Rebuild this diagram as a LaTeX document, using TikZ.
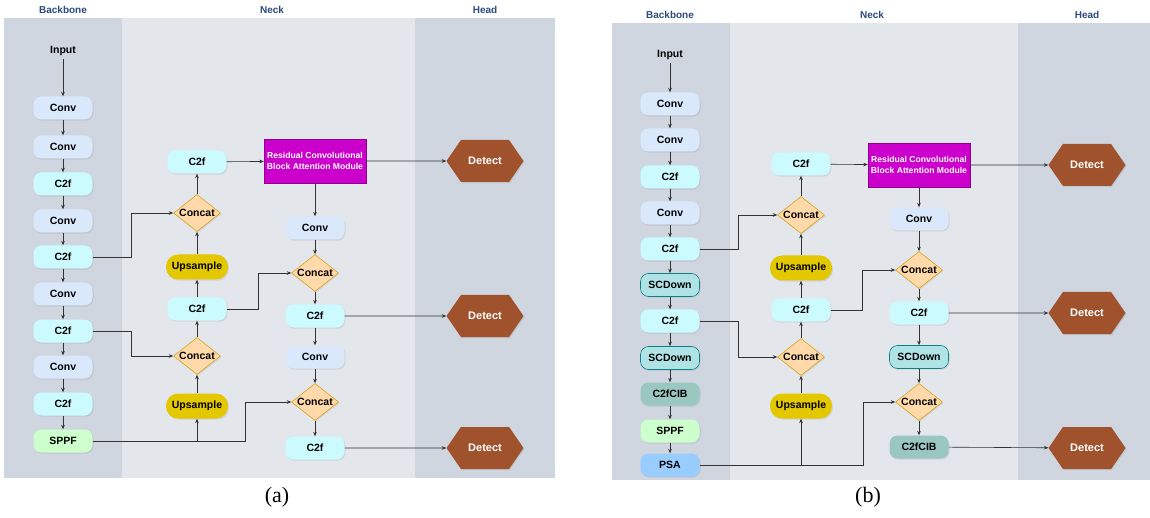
\documentclass[tikz,border=0pt]{standalone}
\usepackage{fontspec}
\setmainfont{Liberation Sans}
\newfontfamily\capfont{Liberation Serif}
\usetikzlibrary{shapes,shapes.symbols,arrows.meta,shadows}

\definecolor{lanedark}{HTML}{CFD6E0}
\definecolor{lanelight}{HTML}{E3E6EB}
\definecolor{titleblue}{HTML}{2E4A7D}
\definecolor{convfill}{HTML}{DAE8FC}
\definecolor{cffill}{HTML}{CCFBFF}
\definecolor{sppffill}{HTML}{CCFFCC}
\definecolor{upfill}{HTML}{E3C800}
\definecolor{catfill}{HTML}{FFD9AA}
\definecolor{catline}{HTML}{D79B00}
\definecolor{rcbfill}{HTML}{CC00CC}
\definecolor{detfill}{HTML}{A0522D}
\definecolor{scdfill}{HTML}{B0E3E6}
\definecolor{scdline}{HTML}{0E8088}
\definecolor{cibfill}{HTML}{9AC7BF}
\definecolor{psafill}{HTML}{99CCFF}
\definecolor{wire}{HTML}{333333}

\begin{document}
\begin{tikzpicture}[x=1pt,y=-1pt,>={Stealth[length=4.5pt,width=3.6pt]}]
  \tikzstyle{shade}=[drop shadow={opacity=0.18,shadow xshift=1pt,shadow yshift=-1.2pt}]
  \tikzstyle{blk}=[rounded corners=8pt,minimum width=59pt,minimum height=23pt,inner sep=0pt,
                   font=\bfseries\fontsize{10.5}{12}\selectfont,shade]
  \tikzstyle{conv}=[blk,fill=convfill]
  \tikzstyle{cf}=[blk,fill=cffill]
  \tikzstyle{sppf}=[blk,fill=sppffill]
  \tikzstyle{scd}=[blk,fill=scdfill,draw=scdline,line width=0.6pt]
  \tikzstyle{cib}=[blk,fill=cibfill]
  \tikzstyle{psa}=[blk,fill=psafill]
  \tikzstyle{upbox}=[blk,fill=upfill,rounded corners=12pt,minimum width=62pt,minimum height=25pt]
  \tikzstyle{catbox}=[diamond,aspect=1.3,inner sep=-3pt,minimum width=47pt,minimum height=37pt,
                      fill=catfill,draw=catline,line width=0.5pt,font=\bfseries\fontsize{10.5}{12}\selectfont,shade]
  \tikzstyle{rcbam}=[rectangle,fill=rcbfill,draw=rcbfill!70!black,line width=0.4pt,minimum width=102pt,
                     minimum height=44pt,inner sep=0pt,align=center,text=white,
                     font=\bfseries\fontsize{8.6}{10.5}\selectfont,shade]
  \tikzstyle{detbox}=[signal,signal to=east and west,signal pointer angle=111,fill=detfill,
                      minimum width=77pt,minimum height=42pt,inner sep=0pt,text=white,
                      font=\bfseries\fontsize{11}{12}\selectfont,shade]
  \tikzstyle{lanetitle}=[font=\bfseries\fontsize{10}{12}\selectfont,text=titleblue]
  \tikzstyle{wireline}=[draw=wire,line width=0.6pt]

  \fill[white] (0,0) rectangle (1150,518);
  \useasboundingbox (0,0) rectangle (1150,518);

  % lanes
  \fill[lanedark] (4,18) rectangle (122,478);
  \fill[lanelight] (122,18) rectangle (415,478);
  \fill[lanedark] (415,18) rectangle (555,478);
  \fill[lanedark] (612,23) rectangle (730,480);
  \fill[lanelight] (730,23) rectangle (1018,480);
  \fill[lanedark] (1018,23) rectangle (1150,480);

  \foreach \name/\x/\y/\text in {ta1/63/10/Backbone, ta2/272/10/Neck, ta3/485/10/Head,
                                  tb1/670/15/Backbone, tb2/872/15/Neck, tb3/1087/15/Head}
    \node[lanetitle] (\name) at (\x,\y) {\text};

  %% (a)
  \node[font=\bfseries\fontsize{10.5}{12}\selectfont] (ain) at (63,51) {Input};
  \foreach \name/\y/\kind/\text in {ab1/108/conv/Conv, ab2/147/conv/Conv, ab3/184/cf/C2f,
                                     ab4/221/conv/Conv, ab5/257/cf/C2f, ab6/294/conv/Conv,
                                     ab7/331/cf/C2f, ab8/367/conv/Conv, ab9/404/cf/C2f, ab10/441/sppf/SPPF}
    \node[\kind] (\name) at (63,\y) {\text};

  \foreach \name/\y/\kind/\text in {an1/162/cf/C2f, an2/213/catbox/Concat, an3/267/upbox/Upsample,
                                     an4/309/cf/C2f, an5/356/catbox/Concat, an6/406/upbox/Upsample}
    \node[\kind] (\name) at (197,\y) {\text};

  \node[rcbam] (ar) at (315,161) {Residual Convolutional\\Block Attention Module};
  \foreach \name/\y/\kind/\text in {ac1/228/conv/Conv, ac2/273/catbox/Concat, ac3/316/cf/C2f,
                                     ac4/357/conv/Conv, ac5/402/catbox/Concat, ac6/448/cf/C2f}
    \node[\kind] (\name) at (315,\y) {\text};

  \foreach \name/\y in {ad1/161, ad2/316, ad3/448}
    \node[detbox] (\name) at (485,\y) {Detect};

  \foreach \from/\to in {ain/ab1,ab1/ab2,ab2/ab3,ab3/ab4,ab4/ab5,ab5/ab6,ab6/ab7,ab7/ab8,ab8/ab9,ab9/ab10,
                         an6/an5,an5/an4,an4/an3,an3/an2,an2/an1,an1/ar,ar/ad1,ar/ac1,
                         ac1/ac2,ac2/ac3,ac3/ad2,ac3/ac4,ac4/ac5,ac5/ac6,ac6/ad3}
    { \draw[wireline,->] (\from) -- (\to); }

  \draw[wireline,->] (ab5.east) -- ++(39,0) |- (an2.west);
  \draw[wireline,->] (ab7.east) -- ++(39,0) |- (an5.west);
  \draw[wireline,->] (ab10.east) -- ++(153,0) |- (ac5.west);
  \draw[wireline,->] (an6 |- ab10) -- (an6.south);
  \draw[wireline,->] (an4.east) -- ++(32,0) |- (ac2.west);

  %% (b)
  \node[font=\bfseries\fontsize{10.5}{12}\selectfont] (bin) at (670,55) {Input};
  \foreach \name/\y/\kind/\text in {bb1/104/conv/Conv, bb2/140/conv/Conv, bb3/177/cf/C2f,
                                     bb4/213/conv/Conv, bb5/249/cf/C2f, bb6/285/scd/SCDown,
                                     bb7/321/cf/C2f, bb8/358/scd/SCDown, bb9/394/cib/C2fCIB,
                                     bb10/431/sppf/SPPF, bb11/465/psa/PSA}
    \node[\kind] (\name) at (670,\y) {\text};

  \foreach \name/\y/\kind/\text in {bn1/164/cf/C2f, bn2/215/catbox/Concat, bn3/268/upbox/Upsample,
                                     bn4/310/cf/C2f, bn5/357/catbox/Concat, bn6/406/upbox/Upsample}
    \node[\kind] (\name) at (801,\y) {\text};

  \node[rcbam] (br) at (919,165) {Residual Convolutional\\Block Attention Module};
  \foreach \name/\y/\kind/\text in {bc1/219/conv/Conv, bc2/270/catbox/Concat, bc3/313/cf/C2f,
                                     bc4/357/scd/SCDown, bc5/402/catbox/Concat, bc6/447/cib/C2fCIB}
    \node[\kind] (\name) at (919,\y) {\text};

  \foreach \name/\y in {bd1/165, bd2/313, bd3/448}
    \node[detbox] (\name) at (1087,\y) {Detect};

  \foreach \from/\to in {bin/bb1,bb1/bb2,bb2/bb3,bb3/bb4,bb4/bb5,bb5/bb6,bb6/bb7,bb7/bb8,bb8/bb9,bb9/bb10,bb10/bb11,
                         bn6/bn5,bn5/bn4,bn4/bn3,bn3/bn2,bn2/bn1,bn1/br,br/bd1,br/bc1,
                         bc1/bc2,bc2/bc3,bc3/bd2,bc3/bc4,bc4/bc5,bc5/bc6,bc6/bd3}
    { \draw[wireline,->] (\from) -- (\to); }

  \draw[wireline,->] (bb5.east) -- ++(39,0) |- (bn2.west);
  \draw[wireline,->] (bb7.east) -- ++(39,0) |- (bn5.west);
  \draw[wireline,->] (bb11.east) -- ++(164,0) |- (bc5.west);
  \draw[wireline,->] (bn6 |- bb11) -- (bn6.south);
  \draw[wireline,->] (bn4.east) -- ++(32,0) |- (bc2.west);

  \node[font=\capfont\fontsize{22}{24}\selectfont] (capa) at (277,497) {(a)};
  \node[font=\capfont\fontsize{22}{24}\selectfont] (capb) at (868,497) {(b)};
\end{tikzpicture}
\end{document}
